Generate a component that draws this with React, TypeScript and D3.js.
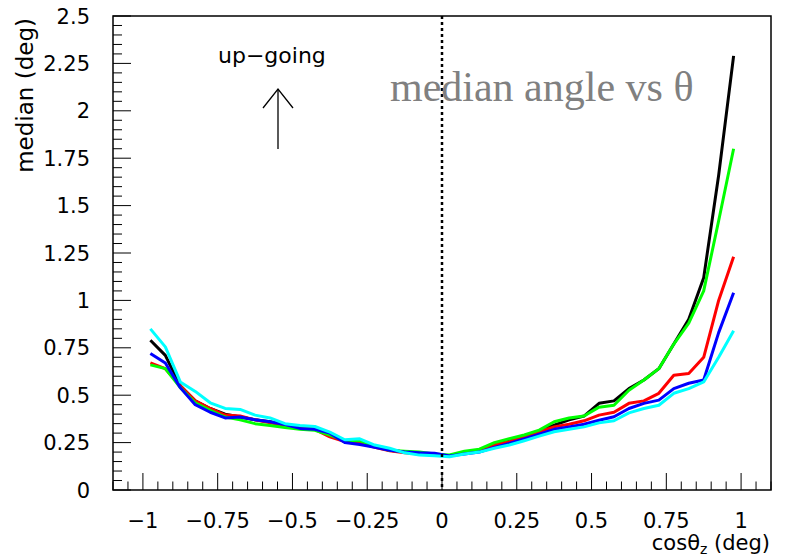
import React from "react";
import * as d3 from "d3";

// cos(theta_z) bin centres
const cosBins = [
  -0.975, -0.925, -0.875, -0.825, -0.775, -0.725, -0.675, -0.625, -0.575, -0.525,
  -0.475, -0.425, -0.375, -0.325, -0.275, -0.225, -0.175, -0.125, -0.075, -0.025,
  0.025, 0.075, 0.125, 0.175, 0.225, 0.275, 0.325, 0.375, 0.425, 0.475,
  0.525, 0.575, 0.625, 0.675, 0.725, 0.775, 0.825, 0.875, 0.925, 0.975,
];

const blackMedian = [
  0.79, 0.71, 0.55, 0.47, 0.43, 0.4, 0.385, 0.37, 0.36, 0.34,
  0.33, 0.325, 0.3, 0.255, 0.245, 0.23, 0.21, 0.2, 0.19, 0.185,
  0.18, 0.195, 0.21, 0.24, 0.265, 0.285, 0.31, 0.342, 0.37, 0.39,
  0.457, 0.47, 0.535, 0.58, 0.64, 0.77, 0.9, 1.12, 1.66, 2.29,
];
const redMedian = [
  0.67, 0.64, 0.55, 0.47, 0.43, 0.395, 0.39, 0.37, 0.355, 0.34,
  0.325, 0.32, 0.28, 0.255, 0.25, 0.225, 0.207, 0.196, 0.19, 0.185,
  0.18, 0.195, 0.205, 0.237, 0.255, 0.28, 0.307, 0.333, 0.347, 0.365,
  0.395, 0.41, 0.457, 0.47, 0.51, 0.605, 0.615, 0.7, 1.0, 1.23,
];
const greenMedian = [
  0.66, 0.64, 0.54, 0.46, 0.42, 0.385, 0.37, 0.35, 0.34, 0.33,
  0.32, 0.315, 0.29, 0.26, 0.26, 0.23, 0.21, 0.205, 0.2, 0.19,
  0.185, 0.205, 0.215, 0.25, 0.27, 0.29, 0.316, 0.36, 0.38, 0.39,
  0.437, 0.447, 0.526, 0.58, 0.64, 0.77, 0.88, 1.05, 1.42, 1.8,
];
const blueMedian = [
  0.72, 0.67, 0.54, 0.45, 0.41, 0.38, 0.385, 0.37, 0.36, 0.345,
  0.325, 0.32, 0.3, 0.25, 0.24, 0.225, 0.21, 0.2, 0.196, 0.194,
  0.18, 0.19, 0.2, 0.225, 0.245, 0.27, 0.295, 0.32, 0.333, 0.347,
  0.368, 0.386, 0.43, 0.457, 0.474, 0.535, 0.563, 0.58, 0.83, 1.04,
];
const cyanMedian = [
  0.85, 0.755, 0.57, 0.52, 0.46, 0.43, 0.425, 0.395, 0.38, 0.35,
  0.34, 0.335, 0.305, 0.265, 0.27, 0.237, 0.22, 0.196, 0.184, 0.18,
  0.175, 0.19, 0.2, 0.22, 0.237, 0.26, 0.284, 0.307, 0.32, 0.333,
  0.354, 0.365, 0.407, 0.43, 0.447, 0.51, 0.535, 0.57, 0.7, 0.84,
];

const seriesList = [
  { name: "black", color: "#000000", values: blackMedian },
  { name: "red", color: "#ff0000", values: redMedian },
  { name: "green", color: "#00ff00", values: greenMedian },
  { name: "blue", color: "#0000ff", values: blueMedian },
  { name: "cyan", color: "#00ffff", values: cyanMedian },
];

const xTicks = [-1, -0.75, -0.5, -0.25, 0, 0.25, 0.5, 0.75, 1];
const yTicks = [0, 0.25, 0.5, 0.75, 1, 1.25, 1.5, 1.75, 2, 2.25, 2.5];

const W = 788;
const H = 560;
const frame = { left: 113, right: 771, top: 16, bottom: 490 };
const font = "'DejaVu Sans', sans-serif";

export default function App() {
  const x = d3.scaleLinear().domain([-1.1, 1.1]).range([frame.left, frame.right]);
  const y = d3.scaleLinear().domain([0, 2.5]).range([frame.bottom, frame.top]);
  const fmt = d3.format("~g");

  const xMinor = d3.range(-1.1, 1.1001, 0.05).map((v) => +v.toFixed(3));
  const yMinor = d3.range(0, 2.5001, 0.05).map((v) => +v.toFixed(3));
  const isMajor = (v) => Math.abs(v / 0.25 - Math.round(v / 0.25)) < 1e-6;

  const line = d3
    .line()
    .x((d) => x(d[0]))
    .y((d) => y(d[1]));

  return (
    <svg
      width={W}
      height={H}
      style={{ position: "absolute", left: 0, top: 0, background: "#fff" }}
    >
      <rect x={0} y={0} width={W} height={H} fill="#fff" />

      {/* curves */}
      {seriesList.map((s) => (
        <path
          key={s.name}
          d={line(cosBins.map((c, i) => [c, s.values[i]]))}
          fill="none"
          stroke={s.color}
          strokeWidth={3}
          strokeLinejoin="round"
        />
      ))}

      {/* dotted line at cos = 0 */}
      <line
        x1={x(0)}
        x2={x(0)}
        y1={frame.top}
        y2={frame.bottom}
        stroke="#000"
        strokeWidth={2.5}
        strokeDasharray="3,3"
      />

      {/* frame */}
      <rect
        x={frame.left}
        y={frame.top}
        width={frame.right - frame.left}
        height={frame.bottom - frame.top}
        fill="none"
        stroke="#000"
        strokeWidth={1.5}
      />

      {/* x ticks */}
      {xMinor.map((v) => (
        <line
          key={"xt" + v}
          x1={x(v)}
          x2={x(v)}
          y1={frame.bottom}
          y2={frame.bottom - (isMajor(v) ? 17 : 8.5)}
          stroke="#000"
          strokeWidth={1}
        />
      ))}
      {xTicks.map((v) => (
        <text
          key={"xl" + v}
          x={x(v)}
          y={528}
          textAnchor="middle"
          fontFamily={font}
          fontSize={21}
          fill="#000"
        >
          {fmt(v)}
        </text>
      ))}

      {/* y ticks */}
      {yMinor.map((v) => (
        <line
          key={"yt" + v}
          x1={frame.left}
          x2={frame.left + (isMajor(v) ? 18 : 9)}
          y1={y(v)}
          y2={y(v)}
          stroke="#000"
          strokeWidth={1}
        />
      ))}
      {yTicks.map((v) => (
        <text
          key={"yl" + v}
          x={90}
          y={y(v)}
          dy="0.36em"
          textAnchor="end"
          fontFamily={font}
          fontSize={21}
          fill="#000"
        >
          {fmt(v)}
        </text>
      ))}

      {/* axis titles */}
      <text
        transform={`translate(33, 18) rotate(-90)`}
        textAnchor="end"
        fontFamily={font}
        fontSize={23}
        fill="#000"
      >
        median (deg)
      </text>
      <text
        x={770}
        y={550}
        textAnchor="end"
        fontFamily={font}
        fontSize={21}
        fill="#000"
      >
        cosθ
        <tspan fontSize={14} dy={4}>
          z
        </tspan>
        <tspan dy={-4}> (deg)</tspan>
      </text>

      {/* annotations */}
      <text x={218} y={63} fontFamily={font} fontSize={22} fill="#000">
        up−going
      </text>
      <line x1={278} x2={278} y1={149} y2={89} stroke="#000" strokeWidth={1.3} />
      <polyline
        points="263,108 278,89 293,108"
        fill="none"
        stroke="#000"
        strokeWidth={1.3}
      />
      <text
        x={390}
        y={101}
        fontFamily="'Liberation Serif', 'Times New Roman', serif"
        fontSize={42}
        fill="#808080"
      >
        median angle vs θ
      </text>
    </svg>
  );
}
